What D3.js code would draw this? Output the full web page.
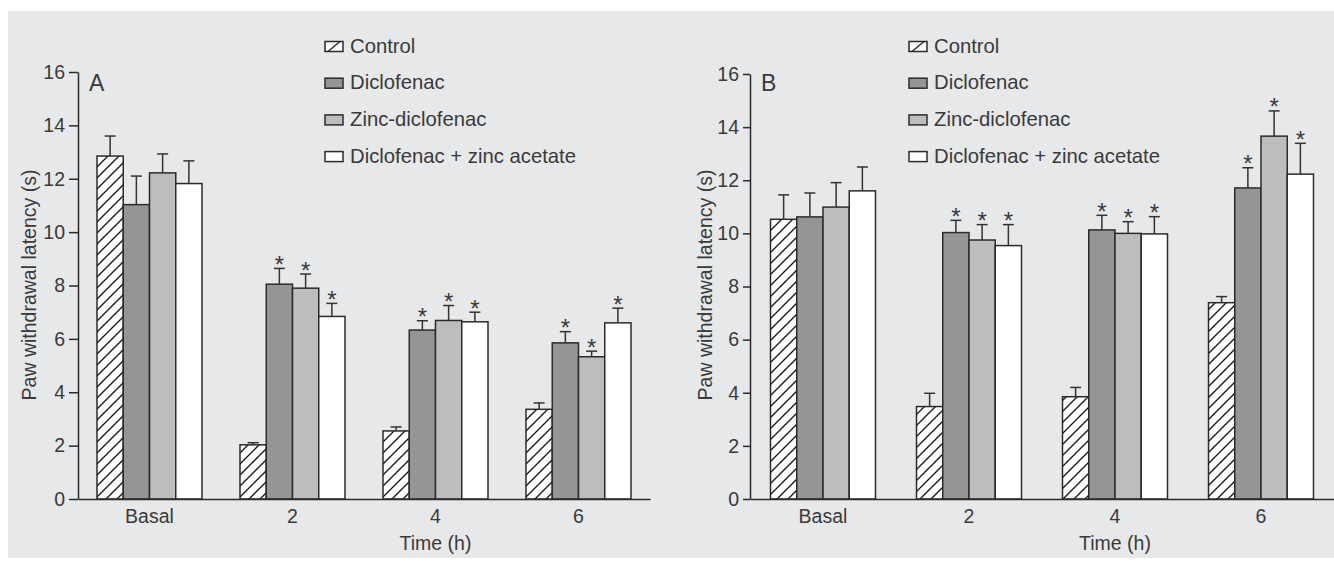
<!DOCTYPE html>
<html>
<head>
<meta charset="utf-8">
<script src="https://cdn.jsdelivr.net/npm/d3@7"></script>
<style>
  body { margin: 0; background: #fff; }
  svg text { font-family: "Liberation Sans", Arial, sans-serif; fill: #3a3a3a; }
</style>
</head>
<body>
<script>
// categories
const groups = ["Basal", "2", "4", "6"];
const series = ["Control", "Diclofenac", "Zinc-diclofenac", "Diclofenac + zinc acetate"];
const yTicks = [0, 2, 4, 6, 8, 10, 12, 14, 16];

// panel A: means and SEM, one array per series
const controlA     = [12.85, 2.03, 2.55, 3.36];
const controlA_err = [0.75, 0.08, 0.15, 0.24];
const diclA        = [11.03, 8.05, 6.33, 5.85];
const diclA_err    = [1.07, 0.59, 0.35, 0.42];
const zincA        = [12.22, 7.90, 6.69, 5.33];
const zincA_err    = [0.71, 0.53, 0.56, 0.21];
const dzaA         = [11.82, 6.84, 6.64, 6.60];
const dzaA_err     = [0.85, 0.49, 0.36, 0.55];

// panel B
const controlB     = [10.53, 3.48, 3.85, 7.39];
const controlB_err = [0.92, 0.50, 0.35, 0.23];
const diclB        = [10.62, 10.03, 10.13, 11.71];
const diclB_err    = [0.90, 0.46, 0.55, 0.76];
const zincB        = [10.99, 9.75, 10.00, 13.66];
const zincB_err    = [0.92, 0.58, 0.44, 0.95];
const dzaB         = [11.60, 9.54, 9.98, 12.23];
const dzaB_err     = [0.90, 0.79, 0.65, 1.16];

// significance vs control (non-control series only, per group)
const starred = [false, true, true, true];

const fills = {
    "Control": "url(#hatch)",
    "Diclofenac": "#949597",
    "Zinc-diclofenac": "#bcbdbf",
    "Diclofenac + zinc acetate": "#ffffff"
};

const width = 1334, height = 570;

const svg = d3.select("body").append("svg")
    .attr("width", width)
    .attr("height", height);

const defs = svg.append("defs");
const pat = defs.append("pattern")
    .attr("id", "hatch")
    .attr("patternUnits", "userSpaceOnUse")
    .attr("width", 11)
    .attr("height", 11);
pat.append("rect").attr("width", 11).attr("height", 11).attr("fill", "#fff");
pat.append("path")
    .attr("d", "M-1,12 L12,-1 M-3,3 L3,-3 M8,14 L14,8")
    .attr("stroke", "#1a1a1a")
    .attr("stroke-width", 1.4);

svg.append("rect")
    .attr("x", 8).attr("y", 11)
    .attr("width", width - 8).attr("height", 547)
    .attr("fill", "#e7e8ea");

function panel(opts) {
    const data = opts.means.map(function(m, si) {
        return groups.map(function(g, gi) {
            return {
                series: series[si],
                group: g,
                value: m[gi],
                err: opts.errs[si][gi],
                star: si > 0 && starred[gi]
            };
        });
    }).flat();

    const y = d3.scaleLinear().domain([0, 16]).range([opts.y0, opts.y16]);
    const x = d3.scaleBand().domain(groups).range([opts.left, opts.right]);
    const xi = d3.scaleBand().domain(series).range([0, 105]);
    const off = (x.bandwidth() - 105) / 2;
    const cx = function(d) { return x(d.group) + off + xi(d.series) + xi.bandwidth() / 2; };

    const g = svg.append("g");

    // bars
    g.selectAll("rect.bar")
        .data(data)
        .enter().append("rect")
        .attr("class", "bar")
        .attr("x", function(d) { return x(d.group) + off + xi(d.series); })
        .attr("y", function(d) { return y(d.value); })
        .attr("width", xi.bandwidth())
        .attr("height", function(d) { return y(0) - y(d.value); })
        .attr("fill", function(d) { return fills[d.series]; })
        .attr("stroke", "#2b2b2b")
        .attr("stroke-width", 1.5);

    // error bars
    const eb = g.selectAll("g.err")
        .data(data)
        .enter().append("g")
        .attr("class", "err")
        .attr("stroke", "#333")
        .attr("stroke-width", 1.5);
    eb.append("line")
        .attr("x1", cx)
        .attr("x2", cx)
        .attr("y1", function(d) { return y(d.value); })
        .attr("y2", function(d) { return y(d.value + d.err); });
    eb.append("line")
        .attr("x1", function(d) { return cx(d) - 5.5; })
        .attr("x2", function(d) { return cx(d) + 5.5; })
        .attr("y1", function(d) { return y(d.value + d.err); })
        .attr("y2", function(d) { return y(d.value + d.err); });

    // stars
    g.selectAll("text.star")
        .data(data.filter(function(d) { return d.star; }))
        .enter().append("text")
        .attr("class", "star")
        .attr("x", cx)
        .attr("y", function(d) { return y(d.value + d.err) + 4.5; })
        .attr("text-anchor", "middle")
        .style("font-size", "24px")
        .text("*");

    // y axis
    const ya = g.append("g")
        .attr("transform", "translate(" + opts.left + ",0)")
        .call(d3.axisLeft(y).tickValues(yTicks).tickSize(opts.tick).tickSizeOuter(0).tickPadding(4));
    ya.selectAll("text").style("font-size", "19.5px").attr("fill", "#3a3a3a");

    // x axis
    const xa = g.append("g")
        .attr("transform", "translate(0," + y(0) + ")")
        .call(d3.axisBottom(x).tickSize(0).tickSizeOuter(0).tickPadding(10));
    xa.selectAll("text").style("font-size", "19.5px").attr("fill", "#3a3a3a");

    svg.selectAll(".domain, .tick line").attr("stroke", "#2b2b2b").attr("stroke-width", 1.5);

    // panel letter
    g.append("text")
        .attr("x", opts.left + 11)
        .attr("y", 91)
        .style("font-size", "23px")
        .text(opts.letter);

    // axis titles
    g.append("text")
        .attr("transform", "translate(" + opts.ytx + ",285) rotate(-90)")
        .attr("text-anchor", "middle")
        .style("font-size", "19.5px")
        .text("Paw withdrawal latency (s)");
    g.append("text")
        .attr("x", x("4") + x.bandwidth() / 2)
        .attr("y", 550)
        .attr("text-anchor", "middle")
        .style("font-size", "19.5px")
        .text("Time (h)");

    // legend
    const lg = g.selectAll("g.leg")
        .data(series)
        .enter().append("g")
        .attr("class", "leg")
        .attr("transform", function(d, i) { return "translate(" + opts.legX + "," + (52.5 + i * 36.7) + ")"; });
    lg.append("rect")
        .attr("x", 0).attr("y", -11)
        .attr("width", 18).attr("height", 10)
        .attr("fill", function(d) { return d === "Control" ? "#fff" : fills[d]; })
        .attr("stroke", "#2b2b2b")
        .attr("stroke-width", 1.5);
    lg.filter(function(d) { return d === "Control"; })
        .append("line")
        .attr("x1", 3).attr("y1", -1)
        .attr("x2", 15).attr("y2", -11)
        .attr("stroke", "#2b2b2b")
        .attr("stroke-width", 1.5);
    lg.append("text")
        .attr("x", 25)
        .attr("y", 0)
        .style("font-size", "20.3px")
        .text(function(d) { return d; });
}

panel({
    letter: "A", left: 78, right: 650, y0: 499, y16: 72, ytx: 36, legX: 325, tick: 9,
    means: [controlA, diclA, zincA, dzaA],
    errs: [controlA_err, diclA_err, zincA_err, dzaA_err]
});
panel({
    letter: "B", left: 750, right: 1334, y0: 499, y16: 74, ytx: 712, legX: 909, tick: 7,
    means: [controlB, diclB, zincB, dzaB],
    errs: [controlB_err, diclB_err, zincB_err, dzaB_err]
});
</script>
</body>
</html>
